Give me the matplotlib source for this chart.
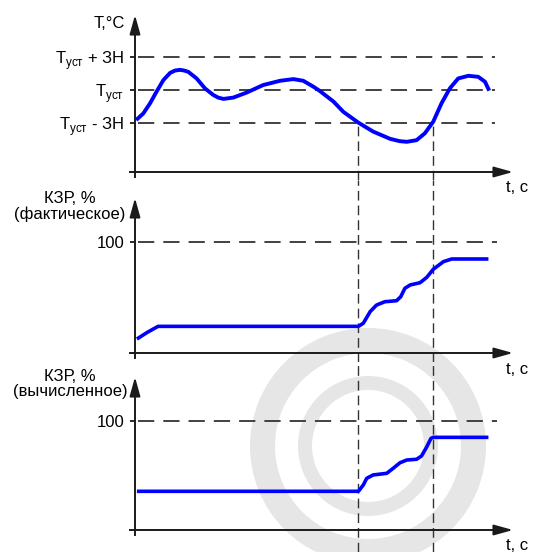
import matplotlib.pyplot as plt
from matplotlib.patches import Annulus

plt.rcParams['font.family'] = ['Liberation Sans', 'DejaVu Sans']
plt.rcParams['mathtext.fontset'] = 'custom'
plt.rcParams['mathtext.rm'] = 'Liberation Sans'

# --- data (t in arbitrary time units, axis arrow at 100) ---
# temperature, in units of the dead zone (0 = setpoint)
t_temp = [0.3, 2.2, 4.0, 5.7, 7.5, 9.3, 10.6, 11.9, 13.0, 14.1, 16.3, 18.5, 20.7, 22.0,
          23.4, 26.0, 29.5, 33.9, 38.4, 41.9, 44.5, 47.2, 48.9, 52.5, 55.1, 59.1, 63.0,
          67.5, 70.0, 71.9, 74.5, 76.7, 78.9, 81.1, 83.3, 85.5, 88.2, 90.8, 92.6, 93.7]
temp = [-0.91, -0.71, -0.40, -0.05, 0.30, 0.52, 0.59, 0.61, 0.59, 0.55, 0.35, 0.05,
        -0.15, -0.23, -0.27, -0.23, -0.08, 0.15, 0.28, 0.33, 0.28, 0.10, -0.03, -0.35,
        -0.66, -0.99, -1.26, -1.48, -1.55, -1.57, -1.52, -1.31, -0.96, -0.40, 0.05, 0.35,
        0.43, 0.40, 0.25, -0.02]
temp_levels = [1, 0, -1]
temp_labels = [r'Т$_{\mathrm{уст}}$ + ЗН', r'Т$_{\mathrm{уст}}$', r'Т$_{\mathrm{уст}}$ - ЗН']

# actual valve position, %
t_act = [0.5, 3.2, 6.1, 59.1, 60.4, 62.2, 63.9, 66.1, 69.2, 70.3, 71.4, 72.8, 75.4,
         77.2, 78.9, 81.6, 83.8, 93.5]
kzr_act = [12.6, 18.5, 24.0, 24.0, 26.8, 37.2, 43.2, 46.2, 47.1, 50.7, 58.3, 61.3,
           63.3, 68.2, 75.4, 82.3, 84.7, 84.7]

# calculated valve position, %
t_calc = [0.5, 59.1, 60.4, 61.3, 63.0, 66.6, 68.3, 70.1, 71.9, 74.5, 75.8, 77.2,
          78.3, 78.9, 93.5]
kzr_calc = [35.5, 35.5, 41.3, 47.4, 50.5, 52.0, 56.6, 61.7, 64.2, 64.9, 67.9, 76.4,
            84.1, 85.0, 85.0]

t_marks = [59.0, 78.8]

W, H = 534, 552
BLUE = '#0000ff'
INK = '#1a1a1a'
DASH = '#333333'
FS = 12

XLIM = (-135 / 3.78, (W - 135) / 3.78)
X_OVER = -5 / 3.78
X_TIP = 100.0

fig = plt.figure(figsize=(W / 100, H / 100), dpi=100)

# watermark rings behind everything
bg = fig.add_axes([0, 0, 1, 1], zorder=0)
bg.set_xlim(0, W)
bg.set_ylim(H, 0)
bg.axis('off')
bg.add_patch(Annulus((368, 446), 118, 25, color='#e6e6e6', lw=0))
bg.add_patch(Annulus((368, 446), 70, 14, color='#e6e6e6', lw=0))


def panel(top, bottom, ylim, x_axis_y, y_tip, y_over):
    ax = fig.add_axes([0, 1 - bottom / H, 1, (bottom - top) / H], zorder=1)
    ax.patch.set_visible(False)
    ax.set_xlim(XLIM)
    ax.set_ylim(ylim)
    for s in ['top', 'right']:
        ax.spines[s].set_visible(False)
    ax.spines['left'].set_position(('data', 0))
    ax.spines['bottom'].set_position(('data', x_axis_y))
    ax.spines['left'].set_bounds(y_over, y_tip - (ylim[1] - ylim[0]) * 0.03)
    ax.spines['bottom'].set_bounds(X_OVER, X_TIP - 2)
    for s in ['left', 'bottom']:
        ax.spines[s].set_linewidth(1.4)
        ax.spines[s].set_color(INK)
    ax.set_xticks([])
    ax.tick_params(axis='y', direction='out', length=3.6, width=1.3, color=INK,
                   pad=4, labelsize=FS)
    arrow = dict(arrowstyle='-|>,head_length=1.15,head_width=0.32', color=INK,
                 lw=1.4, shrinkA=0, shrinkB=0, mutation_scale=10)
    ax.annotate('', xy=(X_TIP, x_axis_y), xytext=(X_TIP - 4, x_axis_y), arrowprops=arrow)
    dy = (ylim[1] - ylim[0]) * 0.06
    ax.annotate('', xy=(0, y_tip), xytext=(0, y_tip - dy), arrowprops=arrow)
    return ax


hdash = dict(color=DASH, lw=1.3, linestyle=(0, (9, 5)))
vdash = dict(color=DASH, lw=1.0, linestyle=(0, (7, 3.6)))
curve = dict(color=BLUE, solid_capstyle='butt', solid_joinstyle='round')

# panel 1: temperature
ax1 = panel(0, 180, (-90 / 33, 90 / 33), -82 / 33, 75 / 33, -87 / 33)
ax1.set_yticks(temp_levels, temp_labels)
for lv in temp_levels:
    ax1.plot([0.8, 95.2], [lv, lv], **hdash)
ax1.vlines(t_marks, -90 / 33, -1, **vdash)
ax1.plot(t_temp, temp, lw=2.8, **curve)
ax1.text(-2.6, 67 / 33, 'Т,°C', ha='right', va='center', fontsize=FS)
ax1.text(101.1, -98 / 33, 't, c', ha='center', va='center', fontsize=FS)

# panel 2: actual position
ax2 = panel(180, 362, ((353 - 362) / 1.11, (353 - 180) / 1.11), 0, (353 - 198) / 1.11, -4.5)
ax2.set_yticks([100], ['100'])
ax2.plot([0.8, 95.8], [100, 100], **hdash)
for tm in t_marks:
    ax2.axvline(tm, **vdash)
ax2.plot(t_act, kzr_act, lw=2.6, **curve)
ax2.text(-17.2, 132, 'КЗР, %\n(фактическое)', ha='center', va='center',
         fontsize=FS, linespacing=1.0)
ax2.text(101.1, -15.3, 't, c', ha='center', va='center', fontsize=FS)

# panel 3: calculated position
ax3 = panel(362, 552, ((530 - 552) / 1.09, (530 - 362) / 1.09), 0, (530 - 377) / 1.09, -4.6)
ax3.set_yticks([100], ['100'])
ax3.plot([0.8, 95.8], [100, 100], **hdash)
for tm in t_marks:
    ax3.axvline(tm, **vdash)
ax3.plot(t_calc, kzr_calc, lw=2.6, **curve)
ax3.text(-17.2, 133.5, 'КЗР, %\n(вычисленное)', ha='center', va='center',
         fontsize=FS, linespacing=1.0)
ax3.text(101.1, -13.8, 't, c', ha='center', va='center', fontsize=FS)

fig.savefig('out.png', dpi=100)
